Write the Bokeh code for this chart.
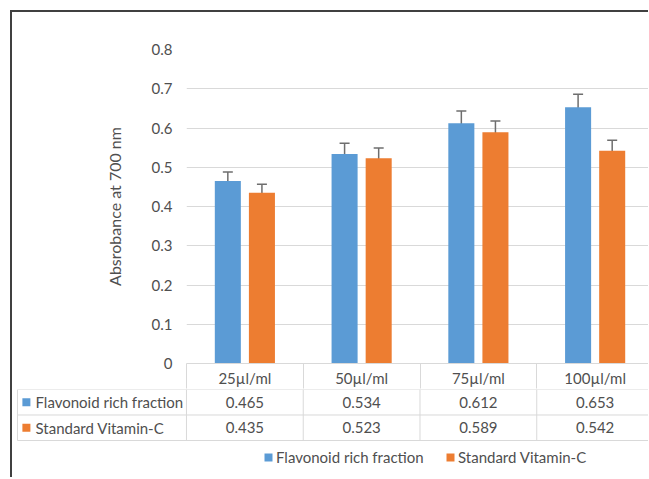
from bokeh.plotting import figure
from bokeh.models import (ColumnDataSource, Range1d, FixedTicker, Whisker, TeeHead,
                          Legend, LegendItem, NumeralTickFormatter, Div)
from bokeh.layouts import column, row
from bokeh.embed import file_html
from bokeh.resources import INLINE
from bokeh.core.properties import value

# ---------------- data ----------------
categories = ["25µl/ml", "50µl/ml", "75µl/ml", "100µl/ml"]
series_names = ["Flavonoid rich fraction", "Standard Vitamin-C"]
flavonoid = [0.465, 0.534, 0.612, 0.653]
vitamin_c = [0.435, 0.523, 0.589, 0.542]
flavonoid_err = [0.023, 0.027, 0.031, 0.033]
vitamin_c_err = [0.022, 0.026, 0.029, 0.027]
y_ticks = [0.0, 0.1, 0.2, 0.3, 0.4, 0.5, 0.6, 0.7, 0.8]
y_title = "Absrobance at 700 nm"

# ---------------- style ----------------
FONT = "Lato"
TXT = "#4f4f4f"
GRID = "#d9d9d9"
BLUE = "#5b9bd5"
ORANGE = "#ed7d31"
ERR = "#6e6e6e"
FRAME = "#404040"
FS = "15px"

n = len(categories)
centers = [i + 0.5 for i in range(n)]
offset = 0.146
bar_w = 0.223
x_end = 3.957
W = 636

# ---------------- chart ----------------
p1 = figure(width=W, height=377, x_range=Range1d(0, x_end), y_range=Range1d(0, 0.8),
            output_backend="svg", toolbar_location=None, frame_align=False,
            min_border_left=174, min_border_right=0, min_border_top=37, min_border_bottom=25)
p1.outline_line_color = None

series = [(flavonoid, flavonoid_err, BLUE, -offset), (vitamin_c, vitamin_c_err, ORANGE, offset)]
for vals, errs, col, off in series:
    xs = [c + off for c in centers]
    src = ColumnDataSource(dict(x=xs, top=vals,
                                upper=[v + e for v, e in zip(vals, errs)],
                                lower=[v - e for v, e in zip(vals, errs)]))
    p1.vbar(x="x", top="top", width=bar_w, source=src, fill_color=col, line_color=None)
    w = Whisker(base="x", upper="upper", lower="lower", source=src, dimension="height",
                line_color=ERR, line_width=1.5,
                upper_head=TeeHead(size=10, line_color=ERR, line_width=1.5),
                lower_head=TeeHead(size=10, line_color=ERR, line_width=1.5))
    p1.add_layout(w)

ya = p1.yaxis[0]
ya.ticker = FixedTicker(ticks=y_ticks)
ya.formatter = NumeralTickFormatter(format="0.[0]")
ya.axis_line_color = None
ya.major_tick_line_color = None
ya.minor_tick_line_color = None
ya.major_tick_out = 0
ya.major_label_standoff = 14
ya.major_label_text_font = FONT
ya.major_label_text_font_size = FS
ya.major_label_text_color = TXT
ya.axis_label = y_title
ya.axis_label_text_font = FONT
ya.axis_label_text_font_size = "16px"
ya.axis_label_text_font_style = "normal"
ya.axis_label_text_color = TXT
ya.axis_label_standoff = 25

xa = p1.xaxis[0]
xa.ticker = FixedTicker(ticks=centers, minor_ticks=list(range(n + 1)))
xa.major_label_overrides = {c: cat for c, cat in zip(centers, categories)}
xa.major_tick_line_color = None
xa.major_tick_out = 0
xa.major_tick_in = 0
xa.minor_tick_out = 25
xa.minor_tick_in = 0
xa.minor_tick_line_color = GRID
xa.axis_line_color = GRID
xa.major_label_standoff = -20
xa.major_label_text_font = FONT
xa.major_label_text_font_size = FS
xa.major_label_text_color = TXT

p1.xgrid.visible = False
p1.ygrid.ticker = FixedTicker(ticks=y_ticks)
p1.ygrid.grid_line_color = GRID

# ---------------- data table + legend ----------------
table_left = -1.4475
p2 = figure(width=W, height=82, x_range=Range1d(-1.490, x_end), y_range=Range1d(3.216, 0),
            output_backend="svg", toolbar_location=None, frame_align=False,
            x_axis_location=None, y_axis_location=None,
            min_border_left=0, min_border_right=0, min_border_top=0, min_border_bottom=0)
p2.outline_line_color = None
p2.grid.visible = False

rows = list(range(len(series_names)))
hy = list(range(len(series_names) + 1))
p2.segment(x0=[table_left] * len(hy), x1=[n] * len(hy), y0=hy, y1=hy, line_color=GRID, line_width=1)
vx = [table_left] + list(range(n + 1))
p2.segment(x0=vx, x1=vx, y0=[0] * len(vx), y1=[len(series_names)] * len(vx), line_color=GRID, line_width=1)

label_x = -1.293
square_x = -1.371
p2.text(x=[label_x] * len(rows), y=[r + 0.5 for r in rows], text=series_names,
        text_align="left", text_baseline="middle", text_font=value(FONT),
        text_font_size=FS, text_color=TXT)

squares = []
for r, (vals, col) in enumerate([(flavonoid, BLUE), (vitamin_c, ORANGE)]):
    sq = p2.rect(x=[square_x], y=[r + 0.5], width=8, height=8, width_units="screen",
                 height_units="screen", fill_color=col, line_color=None)
    squares.append(sq)
    p2.text(x=centers, y=[r + 0.5] * n, text=[f"{v:.3f}" for v in vals],
            text_align="center", text_baseline="middle", text_font=value(FONT),
            text_font_size=FS, text_color=TXT)

for name, sq, loc in zip(series_names, squares, [(251, 5), (433, 5)]):
    leg = Legend(items=[LegendItem(label=name, renderers=[sq])], location=loc,
                 orientation="horizontal", glyph_width=10, glyph_height=10, label_standoff=3,
                 padding=0, margin=0, border_line_color=None, background_fill_alpha=0,
                 label_text_font=FONT, label_text_font_size=FS, label_text_color=TXT)
    p2.add_layout(leg)

# chart-area frame (left and top edges, as in the cropped reference)
top_bar = Div(width=W + 2, height=2, margin=0, styles={"background-color": FRAME})
left_bar = Div(width=2, height=465, margin=0, styles={"background-color": FRAME})
layout = column(top_bar, row(left_bar, column(p1, p2, spacing=0), spacing=0),
                spacing=0, margin=(10, 0, 0, 10))

open("out.html", "w").write(file_html(layout, INLINE))
